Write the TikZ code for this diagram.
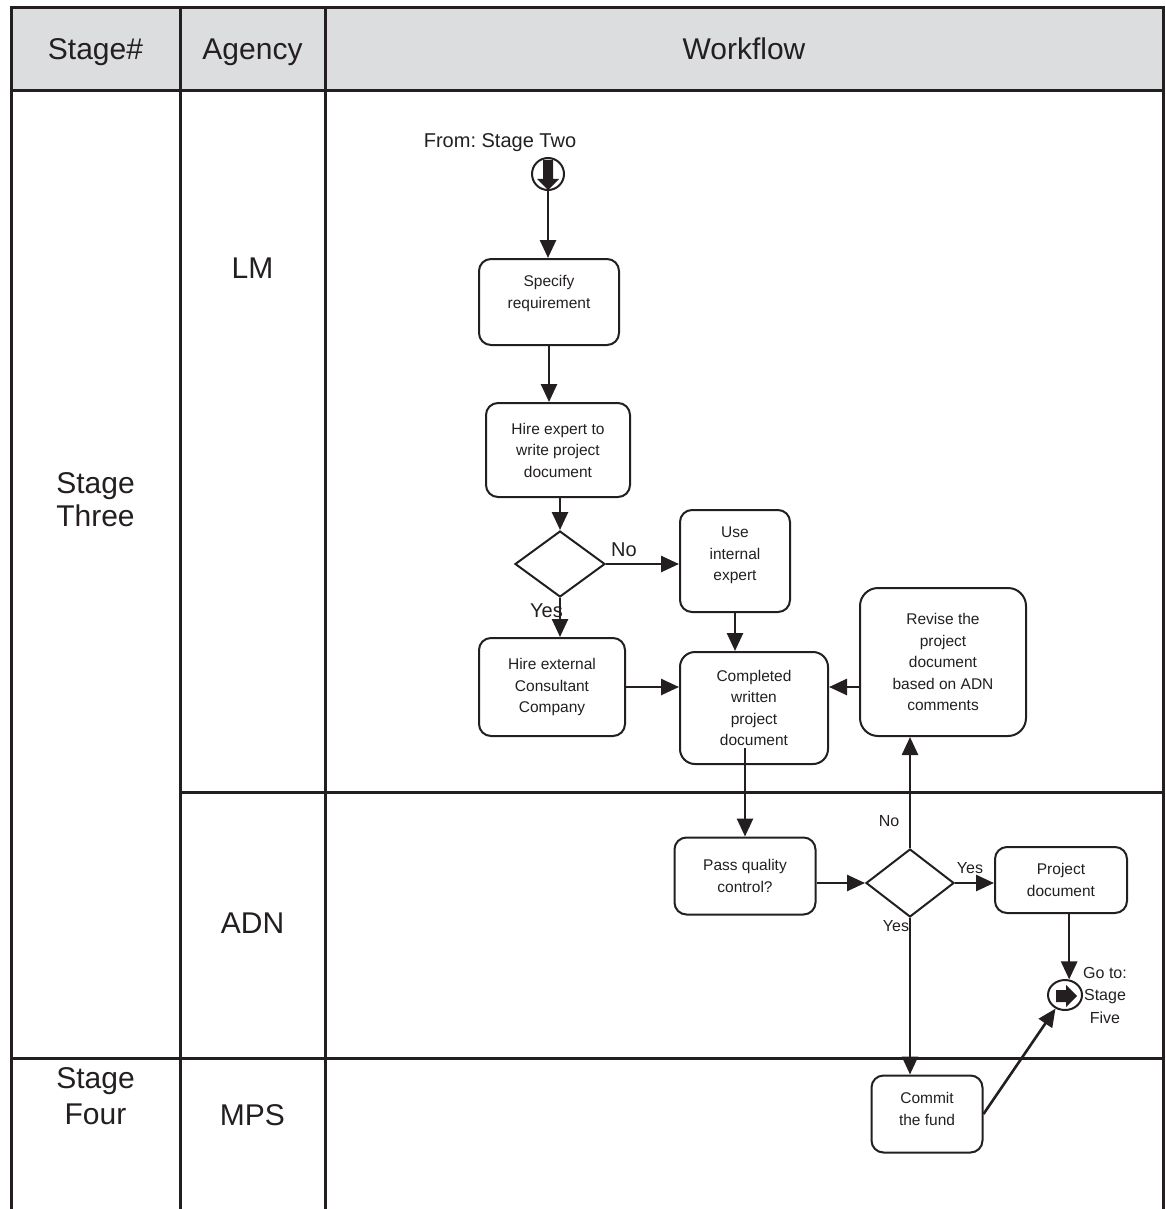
\documentclass[tikz,border=0pt]{standalone}
\usepackage{fontspec}
\setmainfont{Liberation Sans}
\usetikzlibrary{arrows.meta,shapes.geometric}
\definecolor{ink}{RGB}{35,31,32}
\definecolor{headgray}{RGB}{220,221,223}
\frenchspacing
\begin{document}
\begin{tikzpicture}[x=1pt,y=-1pt,
  grid/.style={line width=3pt, draw=ink},
  box/.style={draw=ink, line width=2pt, rounded corners=12pt, align=center,
    font=\fontsize{15.5}{21.5}\selectfont, text=ink, inner sep=0pt},
  dec/.style={diamond, draw=ink, line width=2pt, inner sep=0pt},
  flow/.style={draw=ink, line width=2.6pt, -{Triangle[length=18pt,width=16pt]}},
  head/.style={font=\fontsize{30}{34}\selectfont, text=ink, anchor=base, inner sep=0pt},
  lbl/.style={font=\fontsize{16}{22.5}\selectfont, text=ink, inner sep=1pt, align=center},
  biglbl/.style={font=\fontsize{20}{24}\selectfont, text=ink, inner sep=1pt}
]
\useasboundingbox (0,0) rectangle (1165,1209);

% header band and table rules
\fill[headgray] (11,8) rectangle (1163,91);
\draw[grid] (11,1209) -- (11,8) -- (1163,8) -- (1163,1209);
\draw[grid] (11,91) -- (1163,91);
\draw[grid] (180,792) -- (1163,792);
\draw[grid] (11,1058) -- (1163,1058);
\draw[grid] (180,8) -- (180,1209);
\draw[grid] (325,8) -- (325,1209);

% column headings
\node[head] (hStage) at (95.5,60) {Stage\#};
\node[head] (hAgency) at (252.5,60) {Agency};
\node[head] (hFlow) at (744,60) {Workflow};

% stage and agency cells
\node[head] (st3a) at (95.5,493) {Stage};
\node[head] (st3b) at (95.5,526) {Three};
\node[head] (st4a) at (95.5,1088) {Stage};
\node[head] (st4b) at (95.5,1124) {Four};
\node[head] (agLM) at (252.5,278) {LM};
\node[head] (agADN) at (252.5,933) {ADN};
\node[head] (agMPS) at (252.5,1125) {MPS};

% off-page connectors
\node[biglbl] (fromtxt) at (500,143) {From: Stage Two};
\node[circle, draw=ink, line width=2pt, minimum size=32pt, inner sep=0pt] (from) at (548,174) {};
\fill[ink] (543,160) -- (553,160) -- (553,179) -- (559,179) -- (548,190) -- (537,179) -- (543,179) -- cycle;

\node[ellipse, draw=ink, line width=2pt, minimum width=34pt, minimum height=30pt, inner sep=0pt] (goto) at (1065,995) {};
\fill[ink] (1056,990) -- (1066,990) -- (1066,985) -- (1077,996) -- (1066,1007) -- (1066,1002) -- (1056,1002) -- cycle;
\node[lbl] (gototxt) at (1105,995) {Go to:\\Stage\\Five};

% process steps
\node[box, minimum width=140pt, minimum height=86pt, text depth=20pt] (spec) at (549,302) {Specify\\requirement};
\node[box, minimum width=144pt, minimum height=94pt] (hire) at (558,450) {Hire expert to\\write project\\document};
\node[dec, minimum width=90pt, minimum height=66pt] (d1) at (560,564) {};
\node[box, minimum width=110pt, minimum height=102pt, text depth=14pt] (useint) at (735,561) {Use\\internal\\expert};
\node[box, minimum width=146pt, minimum height=98pt] (hireext) at (552,687) {Hire external\\Consultant\\Company};
\node[box, minimum width=148pt, minimum height=112pt, rounded corners=15pt] (comp) at (754,708) {Completed\\written\\project\\document};
\node[box, minimum width=166pt, minimum height=148pt, rounded corners=18pt] (revise) at (943,662) {Revise the\\project\\document\\based on ADN\\comments};
\node[box, minimum width=141pt, minimum height=77pt] (pass) at (745,876) {Pass quality\\control?};
\node[dec, minimum width=88pt, minimum height=68pt] (d2) at (910,883) {};
\node[box, minimum width=132pt, minimum height=66pt] (proj) at (1061,880) {Project\\document};
\node[box, minimum width=111pt, minimum height=77pt, text depth=10pt] (commit) at (927,1114) {Commit\\the fund};

% branch labels
\node[biglbl] (no1) at (624,550) {No};
\node[biglbl, anchor=east] (yes1) at (564,611) {Yes};
\node[lbl] (no2) at (889,821) {No};
\node[lbl] (yes2) at (970,868) {Yes};
\node[lbl] (yes3) at (896,926) {Yes};

% connectors
\draw[flow] (from.south) -- (from.south |- spec.north);
\draw[flow] (spec.south) -- (spec.south |- hire.north);
\draw[flow] (d1.north |- hire.south) -- (d1.north);
\draw[flow] (d1.east) -- (d1.east -| useint.west);
\draw[flow] (d1.south) -- (d1.south |- hireext.north);
\draw[flow] (useint.south) -- (useint.south |- comp.north);
\draw[flow] (hireext.east) -- (hireext.east -| comp.west);
\draw[flow] (revise.west |- hireext.east) -- (comp.east |- hireext.east);
\coordinate (compOut) at (745,748);
\draw[flow] (compOut) -- (compOut |- pass.north);
\draw[flow] (pass.east |- d2.west) -- (d2.west);
\draw[flow] (d2.north) -- (d2.north |- revise.south);
\draw[flow] (d2.east) -- (d2.east -| proj.west);
\draw[flow] (d2.south) -- (d2.south |- commit.north);
\draw[flow] (goto.75 |- proj.south) -- (goto.75);
\draw[flow] (commit.east) -- (goto.235);
\end{tikzpicture}
\end{document}
